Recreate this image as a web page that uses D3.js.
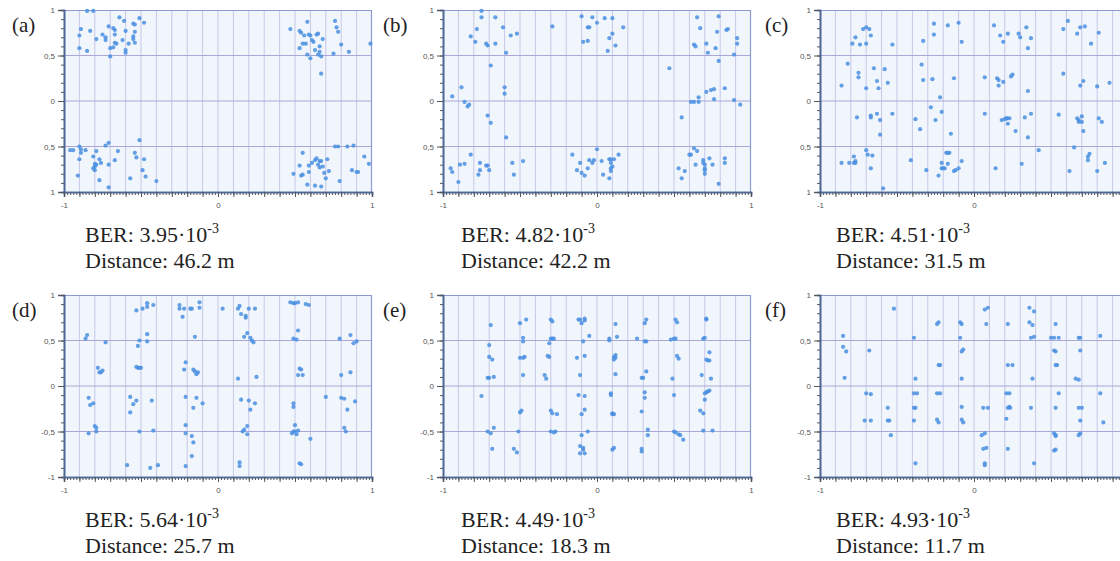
<!DOCTYPE html>
<html>
<head>
<meta charset="utf-8">
<script src="https://cdn.jsdelivr.net/npm/d3@7"></script>
<style>
  body { margin: 0; background: #fff; }
  svg { display: block; }
</style>
</head>
<body>
<div id="chart"></div>
<script>
// received constellations, six measurement distances

var panelIds = ["(a)", "(b)", "(c)", "(d)", "(e)", "(f)"];
var berValues = ["3.95", "4.82", "4.51", "5.64", "4.49", "4.93"];
var berExponent = "-3";
var distances = ["46.2", "42.2", "31.5", "25.7", "18.3", "11.7"];

var yTickValues = [1, 0.5, 0, -0.5, -1];
// upper row prints without minus signs, lower row with
var yTickLabelsTop = ["1", "0,5", "0", "0,5", "1"];
var yTickLabelsBottom = ["1", "0,5", "0", "-0,5", "-1"];
var xTickValues = [-1, 0, 1];
var xTickLabels = ["-1", "0", "1"];

var pointsA = [
  [-0.85,0.99],[-0.81,0.99],[-0.89,0.79],[-0.90,0.72],[-0.83,0.77],[-0.90,0.58],[-0.85,0.55],[-0.79,0.68],[-0.75,0.73],[-0.73,0.70],
  [-0.73,0.67],[-0.71,0.82],[-0.70,0.58],[-0.70,0.49],[-0.68,0.80],[-0.67,0.78],[-0.67,0.64],[-0.67,0.73],[-0.64,0.92],[-0.61,0.88],
  [-0.62,0.67],[-0.60,0.77],[-0.60,0.56],[-0.60,0.53],[-0.58,0.63],[-0.55,0.85],[-0.54,0.84],[-0.54,0.76],[-0.55,0.68],[-0.54,0.64],
  [-0.51,0.91],[-0.48,0.86],[-0.55,0.71],[-0.68,0.59],[-0.66,0.63],
  [0.47,0.79],[0.53,0.58],[0.53,0.77],[0.54,0.75],[0.55,0.63],[0.57,0.63],[0.58,0.87],[0.58,0.51],[0.59,0.73],[0.60,0.72],
  [0.60,0.47],[0.62,0.65],[0.63,0.56],[0.64,0.73],[0.65,0.74],[0.66,0.60],[0.66,0.54],[0.67,0.49],[0.67,0.30],[0.68,0.68],
  [0.65,0.51],[0.75,0.52],[0.76,0.88],[0.77,0.81],[0.78,0.76],[0.80,0.62],[0.85,0.54],[0.99,0.63],[0.56,0.72],[0.61,0.67],
  [-0.96,-0.54],[-0.94,-0.54],[-0.91,-0.82],[-0.90,-0.50],[-0.89,-0.53],[-0.89,-0.57],[-0.90,-0.64],[-0.86,-0.54],[-0.81,-0.61],[-0.80,-0.69],
  [-0.80,-0.72],[-0.80,-0.76],[-0.79,-0.55],[-0.77,-0.64],[-0.77,-0.87],[-0.76,-0.68],[-0.73,-0.49],[-0.71,-0.46],[-0.71,-0.70],[-0.71,-0.95],
  [-0.67,-0.65],[-0.65,-0.55],[-0.57,-0.85],[-0.54,-0.57],[-0.53,-0.62],[-0.51,-0.43],[-0.49,-0.76],[-0.48,-0.64],[-0.47,-0.83],[-0.40,-0.88],
  [-0.81,-0.74],[-0.79,-0.70],
  [0.49,-0.80],[0.53,-0.71],[0.54,-0.82],[0.55,-0.81],[0.55,-0.57],[0.58,-0.92],[0.59,-0.78],[0.59,-0.71],[0.61,-0.68],[0.63,-0.93],
  [0.63,-0.65],[0.64,-0.63],[0.65,-0.70],[0.66,-0.66],[0.66,-0.73],[0.67,-0.94],[0.68,-0.72],[0.69,-0.79],[0.70,-0.85],[0.71,-0.64],
  [0.72,-0.77],[0.76,-0.50],[0.78,-0.50],[0.79,-0.88],[0.84,-0.50],[0.87,-0.76],[0.88,-0.49],[0.90,-0.78],[0.91,-0.78],[0.95,-0.61],
  [0.98,-0.69],[0.67,-0.66]
];

var pointsB = [
  [-0.95,-0.74],[-0.94,-0.78],[-0.94,0.05],[-0.90,-0.89],[-0.89,-0.70],[-0.88,0.15],[-0.86,-0.69],[-0.86,-0.01],[-0.84,-0.06],[-0.83,-0.04],
  [-0.82,-0.59],[-0.82,0.71],[-0.79,0.65],[-0.78,0.79],[-0.76,-0.68],[-0.76,-0.76],[-0.77,-0.81],[-0.75,0.99],[-0.75,0.92],[-0.72,0.63],
  [-0.71,0.61],[-0.72,-0.71],[-0.71,-0.71],[-0.70,-0.76],[-0.71,-0.16],[-0.69,0.39],[-0.69,-0.24],[-0.66,0.92],[-0.66,0.63],[-0.61,0.81],
  [-0.60,0.15],[-0.60,0.08],[-0.59,0.53],[-0.59,-0.40],[-0.56,0.72],[-0.55,-0.68],[-0.54,-0.81],[-0.52,0.74],[-0.48,-0.66],
  [-0.29,0.82],[-0.16,-0.59],[-0.13,-0.76],[-0.11,-0.68],[-0.10,-0.79],[-0.08,-0.82],[-0.10,0.93],[-0.09,0.65],[-0.06,0.66],[-0.06,0.81],
  [-0.05,0.81],[-0.06,-0.74],[-0.05,-0.65],[-0.03,0.92],[-0.03,-0.68],[-0.02,-0.65],[0.00,-0.53],[0.00,0.86],[0.03,-0.66],[0.04,-0.81],
  [0.05,0.91],[0.07,0.55],[0.08,-0.64],[0.08,0.69],[0.09,-0.64],[0.10,0.91],[0.10,0.74],[0.09,-0.68],[0.09,-0.74],[0.09,-0.77],
  [0.08,-0.85],[0.11,-0.64],[0.12,0.61],[0.14,-0.59],[0.17,0.81],[0.10,-0.72],
  [0.47,0.36],[0.53,-0.74],[0.55,-0.85],[0.55,-0.18],[0.57,-0.77],[0.60,-0.59],[0.61,-0.59],[0.61,-0.01],[0.63,-0.01],[0.63,0.62],
  [0.63,-0.52],[0.64,-0.70],[0.64,0.60],[0.65,0.92],[0.65,-0.55],[0.66,0.04],[0.66,-0.01],[0.67,0.80],[0.69,-0.65],[0.70,-0.70],
  [0.70,-0.74],[0.70,-0.76],[0.70,-0.80],[0.71,0.10],[0.71,0.63],[0.72,0.53],[0.73,-0.63],[0.74,0.12],[0.75,-0.70],[0.76,0.02],
  [0.76,0.13],[0.77,0.58],[0.78,0.76],[0.79,0.93],[0.79,0.44],[0.79,-0.91],[0.83,0.14],[0.83,-0.63],[0.83,-0.68],[0.84,0.78],
  [0.85,0.79],[0.89,0.51],[0.89,0.01],[0.91,0.69],[0.91,0.63],[0.93,-0.04],[0.69,-0.68]
];

var pointsC = [
  [-0.86,0.17],[-0.86,-0.68],[-0.82,0.41],[-0.81,-0.68],[-0.79,0.63],[-0.78,-0.68],[-0.78,-0.61],[-0.77,-0.68],[-0.77,-0.66],[-0.77,0.70],
  [-0.76,-0.18],[-0.75,0.31],[-0.75,0.26],[-0.74,0.62],[-0.72,0.79],[-0.70,0.81],[-0.68,0.79],[-0.70,0.63],[-0.70,0.14],[-0.70,-0.54],
  [-0.69,-0.59],[-0.67,0.72],[-0.67,-0.18],[-0.67,-0.16],[-0.66,-0.60],[-0.67,-0.74],[-0.65,0.36],[-0.63,-0.14],[-0.63,0.22],[-0.62,0.14],
  [-0.61,-0.21],[-0.61,-0.37],[-0.59,-0.96],[-0.58,0.35],[-0.56,0.20],[-0.53,0.62],[-0.53,-0.14],
  [-0.41,-0.65],[-0.38,-0.20],[-0.35,-0.31],[-0.34,0.40],[-0.33,0.66],[-0.33,0.23],[-0.31,-0.76],[-0.28,-0.07],[-0.27,0.24],[-0.26,0.85],
  [-0.26,0.73],[-0.25,-0.21],[-0.23,-0.82],[-0.22,0.04],[-0.21,-0.68],[-0.21,-0.12],[-0.21,-0.74],[-0.20,-0.74],[-0.19,-0.74],[-0.18,-0.57],
  [-0.17,0.83],[-0.17,-0.57],[-0.17,-0.69],[-0.16,-0.57],[-0.15,-0.36],[-0.13,0.25],[-0.13,-0.77],[-0.12,-0.76],[-0.10,-0.74],[-0.10,0.86],
  [-0.08,0.65],[-0.08,-0.66],
  [0.07,0.26],[0.07,-0.14],[0.13,0.83],[0.14,-0.74],[0.15,0.25],[0.16,0.17],[0.16,0.23],[0.17,0.72],[0.19,0.21],[0.19,0.65],
  [0.18,-0.21],[0.20,-0.20],[0.21,-0.19],[0.215,-0.19],[0.22,-0.25],[0.22,0.74],[0.23,-0.19],[0.24,0.27],[0.25,0.29],[0.27,-0.33],
  [0.29,0.74],[0.30,0.70],[0.31,-0.69],[0.33,-0.18],[0.34,0.81],[0.35,0.11],[0.35,0.58],[0.35,-0.40],[0.37,-0.14],[0.37,0.69],
  [0.42,-0.54],
  [0.55,-0.15],[0.58,0.30],[0.58,0.79],[0.61,0.88],[0.62,-0.77],[0.65,-0.51],[0.67,0.74],[0.67,-0.19],[0.68,-0.21],[0.68,-0.23],
  [0.69,0.17],[0.69,0.81],[0.70,-0.17],[0.70,-0.23],[0.71,-0.33],[0.71,0.22],[0.72,0.82],[0.74,-0.65],[0.74,-0.61],[0.75,-0.58],
  [0.76,0.63],[0.80,0.16],[0.80,-0.77],[0.81,0.75],[0.81,-0.19],[0.83,-0.23],[0.85,-0.68],[0.88,0.20]
];

var pointsD = [
  [-0.86,0.52],[-0.85,0.56],[-0.84,-0.13],[-0.83,-0.21],[-0.81,-0.19],[-0.80,-0.44],[-0.79,-0.46],[-0.79,-0.50],[-0.84,-0.52],[-0.78,0.20],
  [-0.77,0.15],[-0.76,0.15],[-0.75,0.17],[-0.73,0.48],
  [-0.59,-0.87],[-0.57,-0.29],[-0.57,-0.12],[-0.55,-0.20],[-0.53,-0.16],[-0.53,0.83],[-0.52,0.44],[-0.53,0.21],[-0.52,0.20],[-0.51,0.20],
  [-0.50,0.20],[-0.51,0.50],[-0.51,-0.50],[-0.49,0.85],[-0.46,0.91],[-0.46,0.87],[-0.46,0.57],[-0.46,0.49],[-0.43,-0.16],[-0.42,-0.49],
  [-0.42,0.89],[-0.44,-0.90],[-0.39,-0.87],
  [-0.25,0.89],[-0.25,0.85],[-0.23,0.76],[-0.22,0.85],[-0.22,0.18],[-0.21,-0.12],[-0.21,0.26],[-0.21,-0.43],[-0.21,-0.52],[-0.21,-0.88],
  [-0.18,0.85],[-0.17,0.85],[-0.17,-0.77],[-0.17,-0.55],[-0.16,-0.24],[-0.16,-0.62],[-0.15,0.54],[-0.16,0.18],[-0.15,0.16],[-0.14,-0.13],
  [-0.14,0.13],[-0.13,0.15],[-0.12,0.92],[-0.12,0.86],[-0.10,-0.19],
  [0.03,0.85],[0.13,0.08],[0.13,0.85],[0.14,0.88],[0.14,-0.84],[0.14,-0.88],[0.15,-0.15],[0.15,0.79],[0.16,-0.50],[0.17,-0.48],
  [0.17,0.54],[0.18,0.77],[0.18,0.75],[0.19,-0.44],[0.19,-0.53],[0.19,0.58],[0.20,0.85],[0.20,-0.16],[0.21,-0.26],[0.21,0.53],
  [0.22,0.50],[0.23,0.48],[0.24,0.85],[0.24,-0.19],[0.25,0.10],
  [0.47,0.92],[0.49,0.91],[0.49,0.52],[0.49,-0.19],[0.49,-0.23],[0.50,-0.50],[0.50,0.91],[0.50,-0.43],[0.51,-0.53],[0.51,0.51],
  [0.52,0.92],[0.52,0.61],[0.52,0.12],[0.52,-0.49],[0.53,-0.85],[0.53,0.19],[0.54,-0.86],[0.54,0.18],[0.55,0.12],[0.57,0.90],
  [0.59,0.89],[0.60,-0.58],[0.70,-0.12],[0.49,-0.50],[0.48,-0.52],
  [0.79,0.52],[0.80,0.12],[0.80,-0.13],[0.82,-0.14],[0.82,-0.46],[0.83,-0.50],[0.84,-0.26],[0.86,0.15],[0.86,0.56],[0.88,0.47],
  [0.89,-0.17],[0.90,0.49]
];

var pointsE = [
  [-0.75,-0.11],[-0.71,0.09],[-0.70,0.09],[-0.67,0.10],[-0.70,0.32],[-0.68,0.29],[-0.70,0.45],[-0.69,0.67],[-0.71,-0.50],[-0.69,-0.52],
  [-0.67,-0.46],[-0.68,-0.69],
  [-0.54,-0.69],[-0.52,-0.73],[-0.51,-0.50],[-0.50,-0.29],[-0.50,0.69],[-0.50,0.31],[-0.49,-0.27],[-0.48,0.31],[-0.48,0.53],[-0.48,0.12],
  [-0.48,0.49],[-0.47,0.32],[-0.46,0.73],
  [-0.34,0.12],[-0.33,0.08],[-0.32,0.33],[-0.31,0.32],[-0.31,0.47],[-0.30,0.73],[-0.30,-0.27],[-0.30,0.52],[-0.30,-0.50],[-0.29,-0.30],
  [-0.29,0.71],[-0.29,0.52],[-0.28,-0.51],[-0.27,-0.50],[-0.26,-0.31],[-0.28,0.52],
  [-0.13,0.31],[-0.12,0.73],[-0.12,-0.10],[-0.11,0.73],[-0.11,-0.74],[-0.11,-0.66],[-0.11,0.12],[-0.10,-0.54],[-0.10,-0.31],[-0.10,0.69],
  [-0.09,0.49],[-0.09,-0.68],[-0.08,0.72],[-0.08,-0.11],[-0.08,0.33],[-0.08,-0.26],[-0.08,0.74],[-0.08,-0.74],[-0.06,-0.50],[-0.05,0.55],
  [-0.09,-0.70],
  [0.08,0.50],[0.08,0.52],[0.09,-0.08],[0.09,-0.10],[0.10,-0.30],[0.10,-0.70],[0.10,-0.31],[0.11,-0.68],[0.11,-0.31],[0.11,0.32],
  [0.11,0.29],[0.12,0.13],[0.12,0.31],[0.12,0.34],[0.12,0.68],[0.13,0.54],
  [0.26,0.52],[0.29,-0.28],[0.29,0.09],[0.29,-0.69],[0.30,0.09],[0.31,0.69],[0.31,-0.13],[0.31,-0.07],[0.31,0.49],[0.32,0.16],
  [0.32,0.49],[0.32,0.73],[0.33,-0.54],[0.33,-0.48],[0.29,-0.72],
  [0.48,0.51],[0.49,0.08],[0.50,-0.50],[0.50,-0.10],[0.50,0.52],[0.51,0.73],[0.51,0.52],[0.51,-0.51],[0.52,0.33],[0.52,0.70],
  [0.53,-0.53],[0.53,0.30],[0.54,-0.54],[0.56,-0.59],
  [0.67,-0.27],[0.68,0.12],[0.69,0.52],[0.69,-0.30],[0.69,-0.49],[0.70,-0.08],[0.70,-0.15],[0.71,0.74],[0.71,-0.07],[0.71,0.73],
  [0.70,0.53],[0.71,0.29],[0.72,0.28],[0.73,0.28],[0.72,-0.06],[0.73,0.37],[0.73,-0.05],[0.74,0.08],[0.75,-0.49]
];

var pointsF = [
  [-0.85,0.55],[-0.85,0.43],[-0.83,0.38],[-0.84,0.09],[-0.70,-0.08],[-0.67,-0.09],[-0.68,0.39],[-0.71,-0.38],[-0.67,-0.38],[-0.56,-0.24],
  [-0.56,-0.38],[-0.55,-0.38],[-0.54,-0.54],[-0.52,0.85],
  [-0.39,0.53],[-0.39,-0.24],[-0.38,-0.24],[-0.39,-0.38],[-0.38,0.08],[-0.39,-0.08],[-0.37,-0.08],[-0.38,-0.85],
  [-0.24,0.68],[-0.23,0.70],[-0.24,-0.08],[-0.22,-0.08],[-0.23,0.23],[-0.22,0.23],[-0.24,-0.37],[-0.23,-0.40],
  [-0.09,0.70],[-0.08,0.68],[-0.09,0.53],[-0.08,0.08],[-0.08,0.38],[-0.07,0.40],[-0.08,-0.23],[-0.08,-0.37],[-0.07,-0.40],
  [0.06,-0.24],[0.09,-0.24],[0.05,-0.54],[0.07,-0.52],[0.06,-0.69],[0.08,-0.68],[0.07,-0.85],[0.07,-0.87],[0.07,0.84],[0.09,0.86],
  [0.08,0.68],
  [0.21,-0.36],[0.21,-0.08],[0.23,-0.08],[0.22,0.23],[0.25,0.23],[0.22,0.68],[0.22,-0.24],[0.23,-0.23],[0.235,-0.24],[0.22,-0.69],
  [0.36,0.86],[0.39,0.82],[0.36,0.70],[0.38,0.67],[0.37,0.53],[0.39,0.54],[0.38,0.08],[0.37,-0.24],[0.39,-0.85],
  [0.50,0.53],[0.53,0.68],[0.52,0.53],[0.55,0.53],[0.52,0.39],[0.53,0.23],[0.54,0.23],[0.53,0.38],[0.55,-0.08],[0.53,-0.24],
  [0.52,-0.52],[0.53,-0.54],[0.53,-0.55],[0.53,-0.70],[0.52,-0.71],
  [0.66,0.08],[0.68,0.07],[0.68,0.53],[0.69,0.53],[0.69,0.39],[0.68,-0.24],[0.70,-0.24],[0.69,-0.38],[0.68,-0.54],[0.69,-0.52],
  [0.82,0.55],[0.82,-0.08],[0.84,-0.40]
];

var allPoints = [pointsA, pointsB, pointsC, pointsD, pointsE, pointsF];

// page size and panel placement
var width = 1120;
var height = 561;
var plotW = 308;
var plotH = 182;
var colLeft = [64, 443, 820];
var rowTop = [10, 295];
var labelX = [12, 383, 765];
var textX = [85, 461, 836];

var svg = d3.select("#chart")
    .append("svg")
    .attr("width", width)
    .attr("height", height);

var x = d3.scaleLinear().domain([-1, 1]).range([0, plotW]);
var y = d3.scaleLinear().domain([-1, 1]).range([plotH, 0]);

var vGrid = d3.range(-9, 10).map(function(k) { return k / 10; });
var hGrid = [-0.5, 0, 0.5];
var yMinor = d3.range(-10, 11).map(function(k) { return k / 10; });
var xMinor = d3.range(-50, 51).map(function(k) { return k / 50; });

function drawPanel(i) {
    var col = i % 3;
    var row = Math.floor(i / 3);
    var panelLeft = colLeft[col];
    var panelTop = rowTop[row];

    var g = svg.append("g").attr("transform", "translate(" + panelLeft + "," + panelTop + ")");

    // plot background
    g.append("rect")
        .attr("width", plotW)
        .attr("height", plotH)
        .attr("fill", "#f1f6fc");

    // vertical grid every 0.1
    g.selectAll(".vgrid")
        .data(vGrid)
        .enter()
        .append("line")
        .attr("x1", function(d) { return x(d); })
        .attr("x2", function(d) { return x(d); })
        .attr("y1", 0)
        .attr("y2", plotH)
        .attr("stroke", "#c6c8e8")
        .attr("stroke-width", 1);

    // horizontal lines at +-0.5 and 0
    g.selectAll(".hgrid")
        .data(hGrid)
        .enter()
        .append("line")
        .attr("x1", 0)
        .attr("x2", plotW)
        .attr("y1", function(d) { return y(d); })
        .attr("y2", function(d) { return y(d); })
        .attr("stroke", "#aaa8d8")
        .attr("stroke-width", 1);

    // frame (top and right)
    g.append("path")
        .attr("d", "M0,0.5H" + (plotW - 0.5) + "V" + plotH)
        .attr("fill", "none")
        .attr("stroke", "#8e9ad2")
        .attr("stroke-width", 1.2);

    // constellation points
    g.selectAll("circle")
        .data(allPoints[i])
        .enter()
        .append("circle")
        .attr("cx", function(d) { return x(d[0]); })
        .attr("cy", function(d) { return y(d[1]); })
        .attr("r", 2.1)
        .attr("fill", "#4a8fe0")
        .attr("fill-opacity", 0.85);

    // y axis: minor ticks, then labelled major ticks
    g.append("g")
        .attr("class", "axis")
        .call(d3.axisLeft(y).tickValues(yMinor).tickSize(3).tickFormat(""));

    var yLabels = row === 0 ? yTickLabelsTop : yTickLabelsBottom;
    g.append("g")
        .attr("class", "axis")
        .call(d3.axisLeft(y).tickValues(yTickValues).tickSize(6)
            .tickFormat(function(d, j) { return yLabels[j]; }));

    // x axis: dense minor ticks, medium ticks, labels
    g.append("g")
        .attr("class", "axis")
        .attr("transform", "translate(0," + plotH + ")")
        .call(d3.axisBottom(x).tickValues(xMinor).tickSize(3).tickFormat(""));

    g.append("g")
        .attr("class", "axis")
        .attr("transform", "translate(0," + plotH + ")")
        .call(d3.axisBottom(x).tickValues(vGrid.concat([-1, 1])).tickSize(5).tickFormat(""));

    // only the labels that fall inside the page (the right column runs off the edge)
    var visibleX = xTickValues.filter(function(d) { return panelLeft + x(d) < width - 4; });
    g.append("g")
        .attr("class", "axis xlab")
        .attr("transform", "translate(0," + plotH + ")")
        .call(d3.axisBottom(x).tickValues(visibleX).tickSize(0).tickPadding(10)
            .tickFormat(function(d) { return xTickLabels[xTickValues.indexOf(d)]; }));

    // panel letter
    svg.append("text")
        .attr("x", labelX[col])
        .attr("y", panelTop + 22)
        .attr("font-family", "'Liberation Serif', 'DejaVu Serif', serif")
        .attr("font-size", 21)
        .attr("fill", "#222")
        .text(panelIds[i]);

    // BER and distance below the plot
    var ber = svg.append("text")
        .attr("x", textX[col])
        .attr("y", panelTop + 232)
        .attr("font-family", "'Liberation Serif', 'DejaVu Serif', serif")
        .attr("font-size", 22)
        .attr("fill", "#222");
    ber.append("tspan").text("BER: " + berValues[i] + "\u00b710");
    ber.append("tspan")
        .attr("font-size", 14)
        .attr("dy", -9)
        .text(berExponent);

    svg.append("text")
        .attr("x", textX[col])
        .attr("y", panelTop + 258)
        .attr("font-family", "'Liberation Serif', 'DejaVu Serif', serif")
        .attr("font-size", 22)
        .attr("fill", "#222")
        .text("Distance: " + distances[i] + " m");
}

for (var i = 0; i < 6; i++) {
    drawPanel(i);
}

// axis styling
svg.selectAll(".axis path.domain")
    .attr("stroke", "#4d6796")
    .attr("stroke-width", 1.6);
svg.selectAll(".axis line")
    .attr("stroke", "#555");
svg.selectAll(".axis text")
    .attr("font-family", "'Liberation Sans', Arial, sans-serif")
    .attr("font-size", 8)
    .attr("fill", "#555");
svg.selectAll(".xlab path.domain").remove();
</script>
</body>
</html>
